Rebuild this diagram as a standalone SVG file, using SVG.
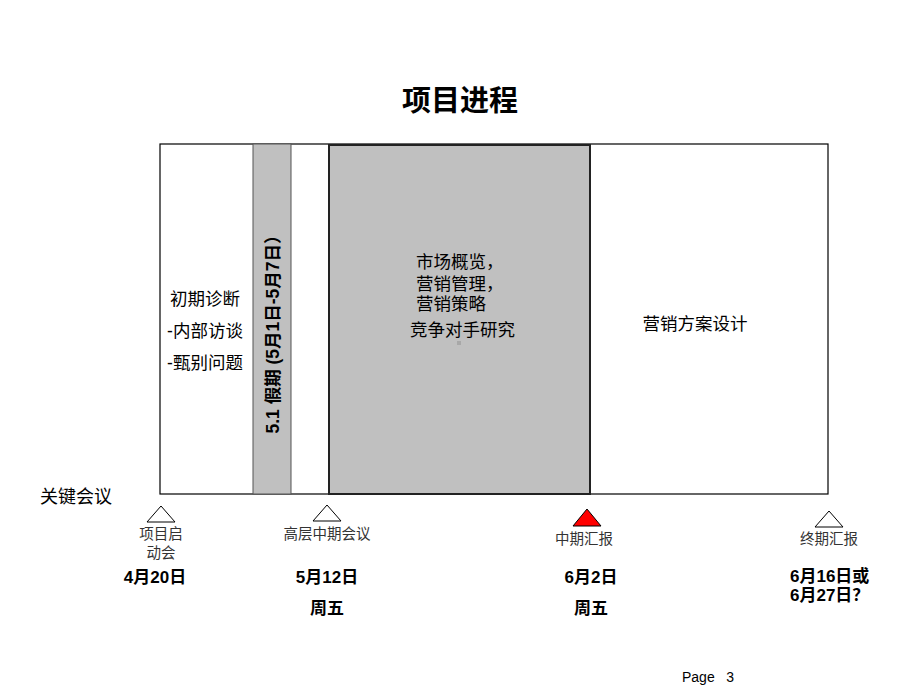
<svg xmlns="http://www.w3.org/2000/svg" width="920" height="690" viewBox="0 0 920 690">
<style>
.cjk{font-family:"Liberation Sans","Noto Sans CJK SC",sans-serif;fill:#000}
.b{font-weight:bold}
.t{font-size:17.5px}
.s{font-size:14.5px;fill:#333}
.d{font-size:17px;font-weight:bold}
.box{stroke:#000;stroke-width:1.2}
.tri{fill:#fff;stroke:#000;stroke-width:1}
</style>
<rect width="920" height="690" fill="#fff"/>
<text class="cjk b" x="460" y="111" font-size="29" text-anchor="middle">项目进程</text>
<g id="frame">
<rect class="box" x="160" y="144" width="668" height="350" fill="#fff"/>
</g>
<g id="phase1">
<text class="cjk t" x="205" y="305" text-anchor="middle">初期诊断</text>
<text class="cjk t" x="205" y="337" text-anchor="middle">-内部访谈</text>
<text class="cjk t" x="205" y="369" text-anchor="middle">-甄别问题</text>
</g>
<g id="holiday">
<rect x="253" y="144" width="38" height="350" fill="#c0c0c0" stroke="#555" stroke-width="1"/>
<text class="cjk b" font-size="17.5" transform="translate(279,330) rotate(-90)" text-anchor="middle">5.1 假期 (5月1日-5月7日）</text>
</g>
<g id="phase2">
<rect x="329" y="145" width="261" height="349" fill="#c0c0c0" stroke="#222" stroke-width="2"/>
<text class="cjk t" x="416" y="268">市场概览，</text>
<text class="cjk t" x="416" y="290">营销管理，</text>
<text class="cjk t" x="416" y="310">营销策略</text>
<text class="cjk t" x="410" y="336">竞争对手研究</text>
<rect x="457" y="341" width="4" height="4" fill="#a8a8a8"/>
</g>
<g id="phase3">
<text class="cjk t" x="695" y="330" text-anchor="middle">营销方案设计</text>
</g>
<text class="cjk" font-size="18" x="40" y="503">关键会议</text>
<g id="m1">
<polygon class="tri" points="161,506 147,522 175,522"/>
<text class="cjk s" x="161" y="539" text-anchor="middle">项目启</text>
<text class="cjk s" x="161" y="558" text-anchor="middle">动会</text>
<text class="cjk d" x="155" y="583" text-anchor="middle">4月20日</text>
</g>
<g id="m2">
<polygon class="tri" points="327,505 313,521 341,521"/>
<text class="cjk s" x="327" y="539" text-anchor="middle">高层中期会议</text>
<text class="cjk d" x="327" y="583" text-anchor="middle">5月12日</text>
<text class="cjk d" x="327" y="614" text-anchor="middle">周五</text>
</g>
<g id="m3">
<polygon points="587,509 573,526 601,526" fill="#f00" stroke="#000" stroke-width="1"/>
<text class="cjk s" x="584" y="544" text-anchor="middle">中期汇报</text>
<text class="cjk d" x="591" y="583" text-anchor="middle">6月2日</text>
<text class="cjk d" x="591" y="614" text-anchor="middle">周五</text>
</g>
<g id="m4">
<polygon class="tri" points="829,511 815,527 843,527"/>
<text class="cjk s" x="829" y="544" text-anchor="middle">终期汇报</text>
<text class="cjk d" x="790" y="582">6月16日或</text>
<text class="cjk d" x="790" y="601">6月27日？</text>
</g>
<text font-family="Liberation Sans,sans-serif" font-size="14" x="682" y="682" xml:space="preserve">Page   3</text>
<g id="connectors"></g>
</svg>
